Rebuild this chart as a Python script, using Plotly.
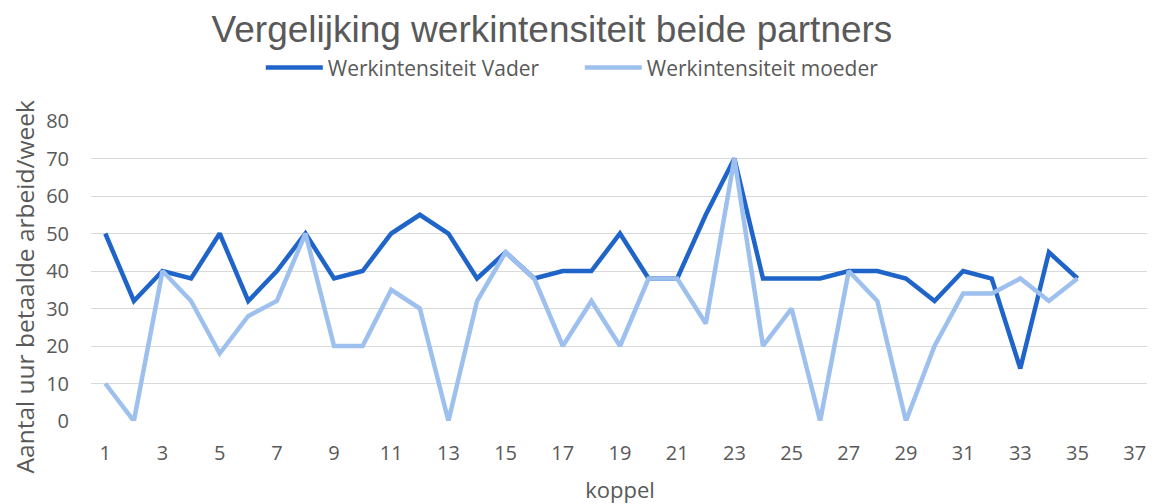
import plotly.graph_objects as go

koppel = list(range(1, 36))
vader = [50, 32, 40, 38, 50, 32, 40, 50, 38, 40, 50, 55, 50, 38, 45, 38, 40, 40, 50, 38,
         38, 55, 70, 38, 38, 38, 40, 40, 38, 32, 40, 38, 14, 45, 38]
moeder = [10, 0, 40, 32, 18, 28, 32, 50, 20, 20, 35, 30, 0, 32, 45, 38, 20, 32, 20, 38,
          38, 26, 70, 20, 30, 0, 40, 32, 0, 20, 34, 34, 38, 32, 38]
x_ticks = list(range(1, 38, 2))
y_ticks = list(range(0, 81, 10))

FONT = "Open Sans, Noto Sans, sans-serif"
TFONT = "Liberation Sans, Arial, sans-serif"
GREY = "#595959"

fig = go.Figure()
fig.add_trace(go.Scatter(x=koppel, y=vader, mode="lines", name="Werkintensiteit Vader",
                         line=dict(color="#1F64C8", width=4.5)))
fig.add_trace(go.Scatter(x=koppel, y=moeder, mode="lines", name="Werkintensiteit moeder",
                         line=dict(color="#9DC0EE", width=4.5)))

fig.update_layout(
    width=1155, height=504,
    margin=dict(l=83, r=14, t=113, b=91, autoexpand=False),
    paper_bgcolor="white", plot_bgcolor="white",
    font=dict(family=FONT, color=GREY, size=20),
    title=dict(text="Vergelijking werkintensiteit beide partners", x=0.471, xanchor="center",
               y=0.958, yanchor="middle", font=dict(family=TFONT, size=37, color=GREY)),
    legend=dict(orientation="h", x=0.462, xanchor="center", y=1.177, yanchor="middle",
                font=dict(size=21, color=GREY), itemwidth=57, traceorder="normal",
                entrywidth=247),
    xaxis=dict(range=[0.5, 37.5], tickmode="array", tickvals=x_ticks,
               ticktext=[str(t) for t in x_ticks], showgrid=False, zeroline=False,
               showline=False, ticks="", tickfont=dict(size=20, color=GREY),
               ticklabelstandoff=18, automargin=False,
               title=dict(text="koppel", font=dict(size=22, color=GREY), standoff=17)),
    yaxis=dict(range=[0, 80], tickmode="array", tickvals=y_ticks, showgrid=True,
               gridcolor="#D9D9D9", gridwidth=1.3, zeroline=False, showline=False,
               ticks="", tickfont=dict(size=20, color=GREY), ticklabelstandoff=21,
               automargin=False),
    annotations=[dict(text="Aantal uur betaalde arbeid/week", textangle=-90,
                      xref="paper", yref="paper", x=-0.0625, y=0.448,
                      xanchor="center", yanchor="middle", showarrow=False,
                      borderpad=0, font=dict(size=24.5, color=GREY))],
)
fig.write_html("out.html")
